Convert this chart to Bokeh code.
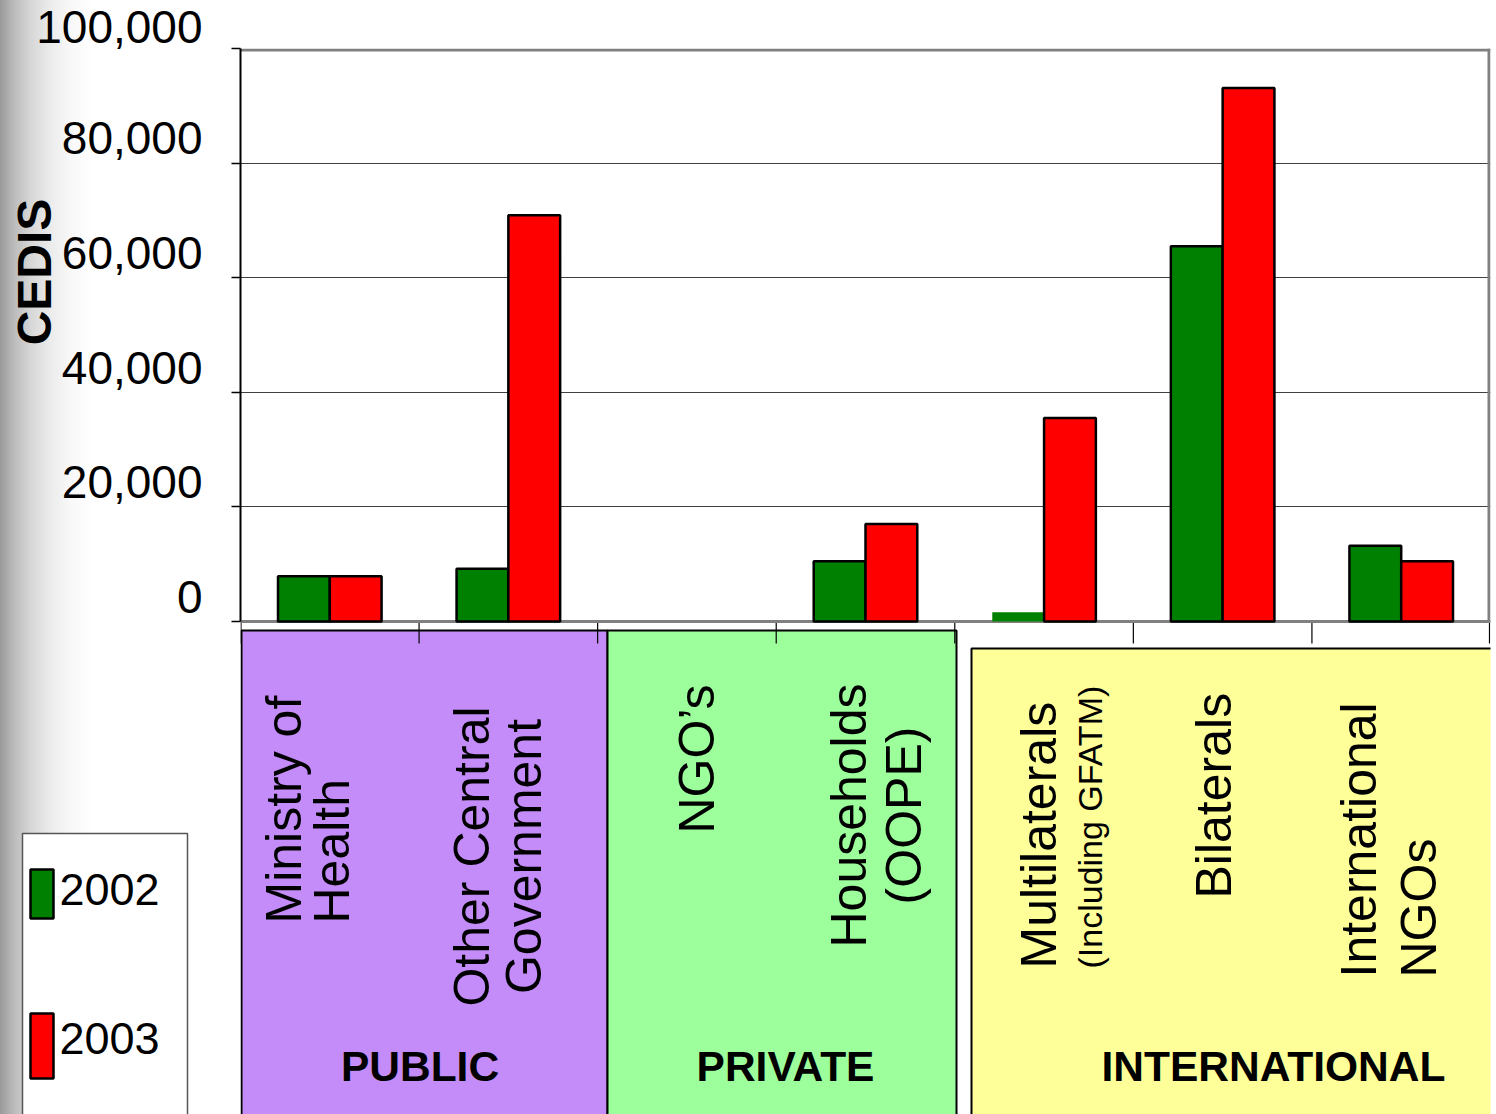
from math import pi
from bokeh.plotting import figure
from bokeh.models import ColumnDataSource, Range1d, FixedTicker
from bokeh.transform import dodge
from bokeh.core.properties import value
from bokeh.embed import file_html
from bokeh.resources import INLINE

# ---------------- data ----------------
categories = ["Ministry of Health", "Other Central Government", "NGO’s",
              "Households (OOPE)", "Multilaterals (Including GFATM)",
              "Bilaterals", "International NGOs"]
category_label_lines = [["Ministry of", "Health"], ["Other Central", "Government"],
                        ["NGO’s"], ["Households", "(OOPE)"],
                        ["Multilaterals", "(Including GFATM)"], ["Bilaterals"],
                        ["International", "NGOs"]]
values_2002 = [7900, 9200, 0, 10500, 1600, 65500, 13200]
values_2003 = [7900, 70900, 0, 17000, 35500, 93100, 10500]
series_names = ["2002", "2003"]
groups = ["PUBLIC", "PRIVATE", "INTERNATIONAL"]
y_ticks = [0, 20000, 40000, 60000, 80000, 100000]
y_tick_labels = ["0", "20,000", "40,000", "60,000", "80,000", "100,000"]
y_axis_title = "CEDIS"

# ---------------- layout ----------------
FONT = "Liberation Sans"
W, H = 1496, 1114
FRAME_L, FRAME_T, FRAME_R = 240, 48, 1490   # pixels
FRAME_B = H
ZERO_Y = 621
YMAX = 100000
units_per_px = YMAX / (ZERO_Y - FRAME_T)
y_bottom = -(FRAME_B - ZERO_Y) * units_per_px
N = len(categories)
ROT_SHIFT = 19      # baseline correction for rotated text (px)
HOR_SHIFT = 14.5    # baseline correction for horizontal text (px)

GREEN, RED = "#008000", "#FF0000"

p = figure(width=W, height=H, x_range=Range1d(0, N),
           y_range=Range1d(y_bottom, YMAX), x_axis_location=None,
           toolbar_location=None, output_backend="svg",
           min_border_left=FRAME_L, min_border_top=FRAME_T,
           min_border_right=W - FRAME_R, min_border_bottom=0,
           outline_line_color=None, background_fill_color="white",
           border_fill_color=None)
# grey shading band along the left edge of the slide
p.styles = {"background": "linear-gradient(to right, #9a9a9a 0px, #bdbdbd 15px, "
                          "#d6d6d6 30px, #ebebeb 50px, #f8f8f8 70px, #ffffff 92px)"}
p.extra_x_ranges = {"px": Range1d(FRAME_L, FRAME_R)}
p.extra_y_ranges = {"px": Range1d(FRAME_B, FRAME_T)}
PX = dict(x_range_name="px", y_range_name="px")

# grid
p.xgrid.visible = False
p.ygrid.ticker = FixedTicker(ticks=y_ticks)
p.ygrid.grid_line_color = "#404040"
p.ygrid.grid_line_width = 1

# y axis (labels sit above their tick: blank second line lifts them)
ax = p.yaxis[0]
ax.ticker = FixedTicker(ticks=y_ticks)
ax.major_label_overrides = {t: lbl + "\n" for t, lbl in zip(y_ticks, y_tick_labels)}
ax.bounds = (0, YMAX)
ax.axis_line_color = "black"
ax.axis_line_width = 2
ax.major_tick_out = 9
ax.major_tick_in = 0
ax.major_tick_line_color = "black"
ax.major_tick_line_width = 1.5
ax.minor_tick_line_color = None
ax.major_label_text_font = FONT
ax.major_label_text_font_size = "46px"
ax.major_label_text_color = "black"
ax.major_label_text_line_height = 0.95
ax.major_label_standoff = 29

# group boxes below the axis
box_src = ColumnDataSource(dict(left=[241, 607, 971], right=[607, 956, 1520],
                                top=[630, 630, 648], bottom=[1140, 1140, 1140],
                                color=["#C48CF8", "#9CFF9C", "#FFFF99"]))
p.quad(left="left", right="right", top="top", bottom="bottom", fill_color="color",
       line_color="black", line_width=2, source=box_src, **PX)

# category boundary ticks
step = (FRAME_R - FRAME_L) / N
tx = [FRAME_L + k * step for k in range(N + 1)]
tx[0] += 0.5
tx[-1] -= 1
p.segment(x0=tx, y0=[ZERO_Y] * len(tx), x1=tx, y1=[643] * len(tx),
          line_color="black", line_width=1.2, **PX)

# category labels (rotated); positions are text baselines
label_pos = [[(302, 923), (350, 923)], [(490, 856), (542, 856)], [(715, 833)],
             [(867, 815), (922, 815)], [(1057, 968), (1106, 968)], [(1232, 898)],
             [(1377, 977), (1437, 977)]]
label_align = ["left", "center", "left", "center", "left", "left", "left"]
for lines, poss, al in zip(category_label_lines, label_pos, label_align):
    for j, (txt, (lx, ly)) in enumerate(zip(lines, poss)):
        small = txt.startswith("(Including")
        p.text(x=[lx - (17 if small else ROT_SHIFT)], y=[ly], text=[txt],
               angle=pi / 2, text_align=al, text_baseline="alphabetic",
               text_font=value(FONT), text_font_size="34px" if small else "50px",
               text_color="black", **PX)

# group labels
p.text(x=[419.5, 785, 1273], y=[1080 - HOR_SHIFT] * 3, text=groups,
       text_align="center", text_baseline="alphabetic", text_font=value(FONT),
       text_font_size="42.5px", text_font_style="bold", text_color="black", **PX)

# plot-area borders
p.segment(x0=[FRAME_L], y0=[ZERO_Y], x1=[FRAME_R], y1=[ZERO_Y],
          line_color="#808080", line_width=3, **PX)
p.segment(x0=[FRAME_L, FRAME_R - 1.5], y0=[FRAME_T + 1.5, FRAME_T],
          x1=[FRAME_R, FRAME_R - 1.5], y1=[FRAME_T + 1.5, ZERO_Y],
          line_color="#808080", line_width=3, **PX)

# bars (category i is centred at i + 0.5 on the x scale)
src = ColumnDataSource(dict(cat=categories, pos=[i + 0.5 for i in range(N)],
                            v2002=values_2002, v2003=values_2003,
                            a2002=[1 if v >= 3000 else 0 for v in values_2002],
                            a2003=[1 if v >= 3000 else 0 for v in values_2003]))
p.vbar(x=dodge("pos", -0.145), top="v2002", bottom=0, width=0.29,
       fill_color=GREEN, line_color="black", line_alpha="a2002", line_width=2.5,
       source=src)
p.vbar(x=dodge("pos", 0.145), top="v2003", bottom=0, width=0.29,
       fill_color=RED, line_color="black", line_alpha="a2003", line_width=2.5,
       source=src)

# y axis title (drawn at annotation level so it is not clipped to the frame)
p.text(x=[52 - 18], y=[271.5], text=[y_axis_title], angle=pi / 2,
       text_align="center", text_baseline="alphabetic", text_font=value(FONT),
       text_font_size="48px", text_font_style="bold", text_color="black",
       level="annotation", **PX)

# legend
p.quad(left=[22], right=[187], top=[833], bottom=[1140], fill_color="white",
       line_color="#555555", line_width=1.5, level="annotation", **PX)
p.quad(left=[30, 30], right=[53, 53], top=[869, 1013], bottom=[918, 1078],
       fill_color=[GREEN, RED], line_color="black", line_width=2.5,
       level="annotation", **PX)
p.text(x=[59, 59], y=[903 - HOR_SHIFT, 1052 - HOR_SHIFT], text=series_names,
       text_align="left", text_baseline="alphabetic", text_font=value(FONT),
       text_font_size="45px", text_color="black", level="annotation", **PX)

open("out.html", "w").write(file_html(p, INLINE))
